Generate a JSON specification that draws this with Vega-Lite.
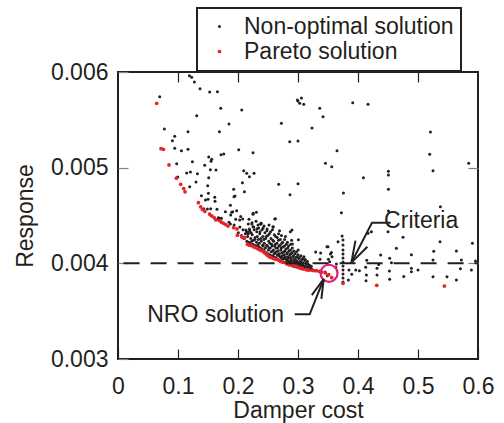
{
  "$schema": "https://vega.github.io/schema/vega-lite/v6.json",
  "width": 360,
  "height": 287,
  "autosize": {"type": "none"},
  "padding": {"left": 118, "top": 72, "right": 26, "bottom": 64},
  "config": {
    "font": "Liberation Sans",
    "view": {"stroke": "#231f20", "strokeWidth": 2},
    "legend": {"strokeWidth": 2},
    "axis": {"grid": false, "domain": false, "labelFlush": false, "labelOverlap": false, "labelFont": "Liberation Sans", "titleFont": "Liberation Sans", "labelFontSize": 23, "titleFontSize": 23, "labelColor": "#231f20", "titleColor": "#231f20", "titleFontWeight": "normal", "tickSize": -10, "tickColor": "#231f20", "tickWidth": 1.2}
  },
  "datasets": {
    "pts": [
      {"x":0.119,"y":0.00596,"t":"N"},{"x":0.1228,"y":0.005945,"t":"N"},{"x":0.1273,"y":0.005895,"t":"N"},{"x":0.1367,"y":0.005825,"t":"N"},{"x":0.1528,"y":0.005791,"t":"N"},{"x":0.1657,"y":0.005794,"t":"N"},{"x":0.0695,"y":0.005742,"t":"N"},{"x":0.1712,"y":0.005621,"t":"N"},{"x":0.1312,"y":0.005543,"t":"N"},{"x":0.185,"y":0.005456,"t":"N"},{"x":0.0773,"y":0.005404,"t":"N"},{"x":0.1167,"y":0.005376,"t":"N"},{"x":0.169,"y":0.005376,"t":"N"},{"x":0.0945,"y":0.005328,"t":"N"},{"x":0.0907,"y":0.005282,"t":"N"},{"x":0.0945,"y":0.005202,"t":"N"},{"x":0.1057,"y":0.005177,"t":"N"},{"x":0.1167,"y":0.005192,"t":"N"},{"x":0.1512,"y":0.005111,"t":"N"},{"x":0.1562,"y":0.005087,"t":"N"},{"x":0.155,"y":0.005067,"t":"N"},{"x":0.1717,"y":0.005136,"t":"N"},{"x":0.1762,"y":0.005143,"t":"N"},{"x":0.124,"y":0.005062,"t":"N"},{"x":0.0978,"y":0.005041,"t":"N"},{"x":0.1445,"y":0.005025,"t":"N"},{"x":0.154,"y":0.004979,"t":"N"},{"x":0.1633,"y":0.004976,"t":"N"},{"x":0.1145,"y":0.004944,"t":"N"},{"x":0.1207,"y":0.004955,"t":"N"},{"x":0.1323,"y":0.004937,"t":"N"},{"x":0.1512,"y":0.004895,"t":"N"},{"x":0.0995,"y":0.004902,"t":"N"},
      {"x":0.3,"y":0.005697,"t":"N"},{"x":0.3057,"y":0.005728,"t":"N"},{"x":0.3028,"y":0.005673,"t":"N"},{"x":0.3095,"y":0.005662,"t":"N"},{"x":0.299,"y":0.005707,"t":"N"},{"x":0.2062,"y":0.005603,"t":"N"},{"x":0.2723,"y":0.005464,"t":"N"},{"x":0.2862,"y":0.005271,"t":"N"},{"x":0.3,"y":0.005279,"t":"N"},{"x":0.2012,"y":0.005188,"t":"N"},{"x":0.225,"y":0.005156,"t":"N"},{"x":0.2095,"y":0.004968,"t":"N"},{"x":0.2145,"y":0.004941,"t":"N"},{"x":0.2267,"y":0.004941,"t":"N"},{"x":0.219,"y":0.004906,"t":"N"},{"x":0.1928,"y":0.004774,"t":"N"},{"x":0.2107,"y":0.004749,"t":"N"},{"x":0.1933,"y":0.004697,"t":"N"},{"x":0.2678,"y":0.004826,"t":"N"},{"x":0.3,"y":0.004832,"t":"N"},{"x":0.2867,"y":0.004717,"t":"N"},{"x":0.1873,"y":0.004607,"t":"N"},{"x":0.1912,"y":0.00454,"t":"N"},{"x":0.2307,"y":0.004533,"t":"N"},{"x":0.225,"y":0.004513,"t":"N"},{"x":0.2623,"y":0.004467,"t":"N"},{"x":0.2078,"y":0.004463,"t":"N"},{"x":0.1612,"y":0.00469,"t":"N"},{"x":0.1617,"y":0.004648,"t":"N"},{"x":0.1507,"y":0.004732,"t":"N"},{"x":0.139,"y":0.004707,"t":"N"},{"x":0.1457,"y":0.004662,"t":"N"},{"x":0.15,"y":0.004669,"t":"N"},{"x":0.1545,"y":0.004571,"t":"N"},{"x":0.149,"y":0.004568,"t":"N"},{"x":0.1428,"y":0.004571,"t":"N"},{"x":0.165,"y":0.004565,"t":"N"},{"x":0.179,"y":0.00454,"t":"N"},{"x":0.1673,"y":0.004477,"t":"N"},{"x":0.13,"y":0.00485,"t":"N"},{"x":0.1195,"y":0.004801,"t":"N"},
      {"x":0.3912,"y":0.005679,"t":"N"},{"x":0.4167,"y":0.005662,"t":"N"},{"x":0.3362,"y":0.005621,"t":"N"},{"x":0.3417,"y":0.005533,"t":"N"},{"x":0.3233,"y":0.005415,"t":"N"},{"x":0.365,"y":0.005177,"t":"N"},{"x":0.3457,"y":0.005046,"t":"N"},{"x":0.3562,"y":0.00501,"t":"N"},{"x":0.409,"y":0.004895,"t":"N"},{"x":0.3757,"y":0.004735,"t":"N"},{"x":0.3723,"y":0.004529,"t":"N"},{"x":0.5845,"y":0.005046,"t":"N"},{"x":0.5207,"y":0.005373,"t":"N"},{"x":0.5195,"y":0.00514,"t":"N"},{"x":0.525,"y":0.004968,"t":"N"},{"x":0.4507,"y":0.004962,"t":"N"},{"x":0.4507,"y":0.004923,"t":"N"},{"x":0.4507,"y":0.004774,"t":"N"},{"x":0.4507,"y":0.004547,"t":"N"},{"x":0.5373,"y":0.004592,"t":"N"},{"x":0.2073,"y":0.004843,"t":"N"},{"x":0.1495,"y":0.004812,"t":"N"},
      {"x":0.185,"y":0.00443,"t":"N"},{"x":0.1873,"y":0.00441,"t":"N"},{"x":0.2028,"y":0.004453,"t":"N"},{"x":0.1667,"y":0.00446,"t":"N"},{"x":0.1695,"y":0.00447,"t":"N"},{"x":0.155,"y":0.0045,"t":"N"},{"x":0.1878,"y":0.004505,"t":"N"},{"x":0.1895,"y":0.004533,"t":"N"},{"x":0.195,"y":0.004704,"t":"N"},{"x":0.1723,"y":0.00447,"t":"N"},{"x":0.2133,"y":0.004348,"t":"N"},{"x":0.2167,"y":0.004324,"t":"N"},{"x":0.2195,"y":0.004341,"t":"N"},{"x":0.225,"y":0.004383,"t":"N"},{"x":0.2317,"y":0.004362,"t":"N"},{"x":0.2378,"y":0.004408,"t":"N"},{"x":0.2233,"y":0.004425,"t":"N"},{"x":0.2253,"y":0.004523,"t":"N"},{"x":0.2383,"y":0.004418,"t":"N"},{"x":0.2612,"y":0.004463,"t":"N"},{"x":0.2583,"y":0.004383,"t":"N"},{"x":0.2873,"y":0.004331,"t":"N"},{"x":0.29,"y":0.004348,"t":"N"},{"x":0.3007,"y":0.004247,"t":"N"},{"x":0.2907,"y":0.004202,"t":"N"},
      {"x":0.1935,"y":0.0044,"t":"N"},{"x":0.1962,"y":0.00446,"t":"N"},{"x":0.2005,"y":0.00432,"t":"N"},{"x":0.2031,"y":0.00438,"t":"N"},{"x":0.2058,"y":0.00429,"t":"N"},{"x":0.2084,"y":0.00435,"t":"N"},{"x":0.2102,"y":0.00426,"t":"N"},{"x":0.2123,"y":0.00431,"t":"N"},{"x":0.2045,"y":0.00449,"t":"N"},{"x":0.1978,"y":0.00455,"t":"N"},
      {"x":0.2148,"y":0.00423,"t":"N"},{"x":0.2161,"y":0.00428,"t":"N"},{"x":0.2139,"y":0.00433,"t":"N"},{"x":0.2172,"y":0.00441,"t":"N"},{"x":0.2203,"y":0.00421,"t":"N"},{"x":0.2214,"y":0.00426,"t":"N"},{"x":0.2191,"y":0.00436,"t":"N"},{"x":0.2246,"y":0.0042,"t":"N"},{"x":0.2258,"y":0.00424,"t":"N"},{"x":0.2237,"y":0.0043,"t":"N"},{"x":0.2262,"y":0.00438,"t":"N"},{"x":0.2297,"y":0.00418,"t":"N"},{"x":0.2309,"y":0.00422,"t":"N"},{"x":0.2285,"y":0.00427,"t":"N"},{"x":0.2313,"y":0.00433,"t":"N"},{"x":0.2301,"y":0.00444,"t":"N"},{"x":0.2348,"y":0.00417,"t":"N"},{"x":0.2355,"y":0.00421,"t":"N"},{"x":0.2339,"y":0.00425,"t":"N"},{"x":0.2362,"y":0.00431,"t":"N"},{"x":0.2344,"y":0.00437,"t":"N"},{"x":0.2396,"y":0.00415,"t":"N"},{"x":0.2409,"y":0.00419,"t":"N"},{"x":0.2388,"y":0.00423,"t":"N"},{"x":0.2412,"y":0.00428,"t":"N"},{"x":0.2401,"y":0.00435,"t":"N"},{"x":0.2384,"y":0.00442,"t":"N"},{"x":0.2447,"y":0.00412,"t":"N"},{"x":0.2456,"y":0.00416,"t":"N"},{"x":0.2438,"y":0.00421,"t":"N"},{"x":0.2461,"y":0.00426,"t":"N"},{"x":0.2449,"y":0.00432,"t":"N"},{"x":0.2433,"y":0.00439,"t":"N"},{"x":0.2495,"y":0.0041,"t":"N"},{"x":0.2507,"y":0.00414,"t":"N"},{"x":0.2489,"y":0.00418,"t":"N"},{"x":0.2512,"y":0.00423,"t":"N"},{"x":0.2498,"y":0.00429,"t":"N"},{"x":0.2485,"y":0.00436,"t":"N"},{"x":0.2546,"y":0.00408,"t":"N"},{"x":0.2553,"y":0.00412,"t":"N"},{"x":0.2538,"y":0.00416,"t":"N"},{"x":0.2561,"y":0.0042,"t":"N"},{"x":0.2549,"y":0.00426,"t":"N"},{"x":0.2542,"y":0.00433,"t":"N"},{"x":0.2597,"y":0.00407,"t":"N"},{"x":0.2604,"y":0.0041,"t":"N"},{"x":0.2589,"y":0.00414,"t":"N"},{"x":0.2611,"y":0.00418,"t":"N"},{"x":0.2593,"y":0.00423,"t":"N"},{"x":0.2606,"y":0.0043,"t":"N"},{"x":0.2588,"y":0.00438,"t":"N"},{"x":0.2645,"y":0.00405,"t":"N"},{"x":0.2656,"y":0.00409,"t":"N"},{"x":0.2638,"y":0.00412,"t":"N"},{"x":0.2661,"y":0.00416,"t":"N"},{"x":0.2649,"y":0.00421,"t":"N"},{"x":0.2653,"y":0.00427,"t":"N"},{"x":0.2696,"y":0.00403,"t":"N"},{"x":0.2708,"y":0.00407,"t":"N"},{"x":0.2689,"y":0.0041,"t":"N"},{"x":0.2712,"y":0.00414,"t":"N"},{"x":0.2699,"y":0.00419,"t":"N"},{"x":0.2705,"y":0.00425,"t":"N"},{"x":0.2692,"y":0.00434,"t":"N"},{"x":0.2747,"y":0.00402,"t":"N"},{"x":0.2754,"y":0.00405,"t":"N"},{"x":0.2739,"y":0.00408,"t":"N"},{"x":0.2761,"y":0.00412,"t":"N"},{"x":0.2748,"y":0.00417,"t":"N"},{"x":0.2744,"y":0.00422,"t":"N"},{"x":0.2795,"y":0.00401,"t":"N"},{"x":0.2808,"y":0.00404,"t":"N"},{"x":0.2789,"y":0.00407,"t":"N"},{"x":0.2812,"y":0.0041,"t":"N"},{"x":0.2798,"y":0.00415,"t":"N"},{"x":0.2804,"y":0.0042,"t":"N"},{"x":0.2791,"y":0.00428,"t":"N"},{"x":0.2846,"y":0.00399,"t":"N"},{"x":0.2853,"y":0.00402,"t":"N"},{"x":0.2838,"y":0.00405,"t":"N"},{"x":0.2861,"y":0.00409,"t":"N"},{"x":0.2849,"y":0.00413,"t":"N"},{"x":0.2843,"y":0.00418,"t":"N"},{"x":0.2897,"y":0.00398,"t":"N"},{"x":0.2906,"y":0.00401,"t":"N"},{"x":0.2889,"y":0.00404,"t":"N"},{"x":0.2911,"y":0.00407,"t":"N"},{"x":0.2899,"y":0.00411,"t":"N"},{"x":0.2905,"y":0.00416,"t":"N"},{"x":0.2893,"y":0.00424,"t":"N"},{"x":0.2946,"y":0.00397,"t":"N"},{"x":0.2955,"y":0.004,"t":"N"},{"x":0.2938,"y":0.00403,"t":"N"},{"x":0.2961,"y":0.00406,"t":"N"},{"x":0.2949,"y":0.0041,"t":"N"},{"x":0.2997,"y":0.00396,"t":"N"},{"x":0.3006,"y":0.00399,"t":"N"},{"x":0.2989,"y":0.00402,"t":"N"},{"x":0.3011,"y":0.00405,"t":"N"},{"x":0.2999,"y":0.00409,"t":"N"},{"x":0.3004,"y":0.00414,"t":"N"},{"x":0.3047,"y":0.00395,"t":"N"},{"x":0.3054,"y":0.00398,"t":"N"},{"x":0.3039,"y":0.00401,"t":"N"},{"x":0.3061,"y":0.00404,"t":"N"},{"x":0.3049,"y":0.00408,"t":"N"},{"x":0.3096,"y":0.00394,"t":"N"},{"x":0.3105,"y":0.00397,"t":"N"},{"x":0.3089,"y":0.004,"t":"N"},{"x":0.3111,"y":0.00403,"t":"N"},{"x":0.3099,"y":0.00407,"t":"N"},{"x":0.3146,"y":0.00394,"t":"N"},{"x":0.3155,"y":0.00396,"t":"N"},{"x":0.3141,"y":0.00399,"t":"N"},{"x":0.3158,"y":0.00402,"t":"N"},{"x":0.3197,"y":0.00393,"t":"N"},{"x":0.3205,"y":0.00395,"t":"N"},{"x":0.3191,"y":0.00398,"t":"N"},
      {"x":0.2178,"y":0.00422,"t":"N"},{"x":0.2171,"y":0.00431,"t":"N"},{"x":0.2183,"y":0.00446,"t":"N"},{"x":0.2228,"y":0.00423,"t":"N"},{"x":0.2219,"y":0.00432,"t":"N"},{"x":0.2231,"y":0.00441,"t":"N"},{"x":0.2272,"y":0.00419,"t":"N"},{"x":0.2281,"y":0.00425,"t":"N"},{"x":0.2269,"y":0.00435,"t":"N"},{"x":0.2328,"y":0.00419,"t":"N"},{"x":0.2321,"y":0.00428,"t":"N"},{"x":0.2333,"y":0.0044,"t":"N"},{"x":0.2372,"y":0.00416,"t":"N"},{"x":0.2379,"y":0.00426,"t":"N"},{"x":0.2368,"y":0.00433,"t":"N"},{"x":0.2428,"y":0.00414,"t":"N"},{"x":0.2421,"y":0.00418,"t":"N"},{"x":0.2431,"y":0.00425,"t":"N"},{"x":0.2419,"y":0.00437,"t":"N"},{"x":0.2472,"y":0.00411,"t":"N"},{"x":0.2479,"y":0.00419,"t":"N"},{"x":0.2468,"y":0.00428,"t":"N"},{"x":0.2481,"y":0.00434,"t":"N"},{"x":0.2528,"y":0.00409,"t":"N"},{"x":0.2519,"y":0.00416,"t":"N"},{"x":0.2531,"y":0.00421,"t":"N"},{"x":0.2522,"y":0.00431,"t":"N"},{"x":0.2517,"y":0.0044,"t":"N"},{"x":0.2572,"y":0.00408,"t":"N"},{"x":0.2579,"y":0.00413,"t":"N"},{"x":0.2568,"y":0.00418,"t":"N"},{"x":0.2581,"y":0.00424,"t":"N"},{"x":0.2574,"y":0.00435,"t":"N"},{"x":0.2628,"y":0.00406,"t":"N"},{"x":0.2619,"y":0.00411,"t":"N"},{"x":0.2631,"y":0.00416,"t":"N"},{"x":0.2622,"y":0.0042,"t":"N"},{"x":0.2627,"y":0.00428,"t":"N"},{"x":0.2672,"y":0.00404,"t":"N"},{"x":0.2679,"y":0.00408,"t":"N"},{"x":0.2668,"y":0.00413,"t":"N"},{"x":0.2681,"y":0.00418,"t":"N"},{"x":0.2674,"y":0.00424,"t":"N"},{"x":0.2677,"y":0.00431,"t":"N"},{"x":0.2728,"y":0.00403,"t":"N"},{"x":0.2719,"y":0.00406,"t":"N"},{"x":0.2731,"y":0.00411,"t":"N"},{"x":0.2722,"y":0.00416,"t":"N"},{"x":0.2729,"y":0.00421,"t":"N"},{"x":0.2724,"y":0.00429,"t":"N"},{"x":0.2772,"y":0.00401,"t":"N"},{"x":0.2779,"y":0.00405,"t":"N"},{"x":0.2768,"y":0.00409,"t":"N"},{"x":0.2781,"y":0.00413,"t":"N"},{"x":0.2774,"y":0.00418,"t":"N"},{"x":0.2777,"y":0.00425,"t":"N"},{"x":0.2828,"y":0.004,"t":"N"},{"x":0.2819,"y":0.00403,"t":"N"},{"x":0.2831,"y":0.00407,"t":"N"},{"x":0.2822,"y":0.00411,"t":"N"},{"x":0.2829,"y":0.00416,"t":"N"},{"x":0.2824,"y":0.00422,"t":"N"},{"x":0.2872,"y":0.00399,"t":"N"},{"x":0.2879,"y":0.00402,"t":"N"},{"x":0.2868,"y":0.00406,"t":"N"},{"x":0.2881,"y":0.0041,"t":"N"},{"x":0.2874,"y":0.00414,"t":"N"},{"x":0.2877,"y":0.0042,"t":"N"},{"x":0.2928,"y":0.00397,"t":"N"},{"x":0.2919,"y":0.004,"t":"N"},{"x":0.2931,"y":0.00404,"t":"N"},{"x":0.2922,"y":0.00408,"t":"N"},{"x":0.2929,"y":0.00413,"t":"N"},{"x":0.2972,"y":0.00397,"t":"N"},{"x":0.2979,"y":0.004,"t":"N"},{"x":0.2968,"y":0.00403,"t":"N"},{"x":0.2981,"y":0.00407,"t":"N"},{"x":0.2974,"y":0.00412,"t":"N"},{"x":0.3028,"y":0.00396,"t":"N"},{"x":0.3019,"y":0.00399,"t":"N"},{"x":0.3031,"y":0.00402,"t":"N"},{"x":0.3022,"y":0.00406,"t":"N"},{"x":0.3072,"y":0.00395,"t":"N"},{"x":0.3079,"y":0.00398,"t":"N"},{"x":0.3068,"y":0.00401,"t":"N"},{"x":0.3081,"y":0.00405,"t":"N"},{"x":0.3128,"y":0.00395,"t":"N"},{"x":0.3119,"y":0.00397,"t":"N"},{"x":0.3131,"y":0.004,"t":"N"},{"x":0.3122,"y":0.00404,"t":"N"},{"x":0.3172,"y":0.00394,"t":"N"},{"x":0.3179,"y":0.00396,"t":"N"},{"x":0.3168,"y":0.00399,"t":"N"},{"x":0.3228,"y":0.00394,"t":"N"},{"x":0.3221,"y":0.00397,"t":"N"},
      {"x":0.3295,"y":0.004118,"t":"N"},{"x":0.3378,"y":0.004108,"t":"N"},{"x":0.3367,"y":0.004042,"t":"N"},{"x":0.35,"y":0.004174,"t":"N"},{"x":0.354,"y":0.004098,"t":"N"},{"x":0.3567,"y":0.00407,"t":"N"},{"x":0.364,"y":0.003993,"t":"N"},{"x":0.3628,"y":0.003958,"t":"N"},{"x":0.3483,"y":0.004174,"t":"N"},{"x":0.3557,"y":0.004112,"t":"N"},{"x":0.3507,"y":0.004042,"t":"N"},{"x":0.3528,"y":0.004017,"t":"N"},{"x":0.3667,"y":0.004226,"t":"N"},{"x":0.3735,"y":0.004286,"t":"N"},{"x":0.375,"y":0.004244,"t":"N"},{"x":0.375,"y":0.004191,"t":"N"},{"x":0.375,"y":0.004139,"t":"N"},{"x":0.375,"y":0.004097,"t":"N"},{"x":0.375,"y":0.004056,"t":"N"},{"x":0.375,"y":0.004014,"t":"N"},{"x":0.375,"y":0.003972,"t":"N"},{"x":0.375,"y":0.00393,"t":"N"},{"x":0.375,"y":0.003889,"t":"N"},{"x":0.375,"y":0.003847,"t":"N"},{"x":0.375,"y":0.003805,"t":"N"},{"x":0.385,"y":0.00393,"t":"N"},{"x":0.3895,"y":0.003885,"t":"N"},{"x":0.3962,"y":0.00393,"t":"N"},{"x":0.4023,"y":0.003923,"t":"N"},{"x":0.384,"y":0.003826,"t":"N"},{"x":0.4128,"y":0.003958,"t":"N"},{"x":0.414,"y":0.003878,"t":"N"},{"x":0.4133,"y":0.003818,"t":"N"},{"x":0.4145,"y":0.004031,"t":"N"},{"x":0.4317,"y":0.003948,"t":"N"},{"x":0.4317,"y":0.003878,"t":"N"},{"x":0.4345,"y":0.003989,"t":"N"},{"x":0.4378,"y":0.004087,"t":"N"},{"x":0.4223,"y":0.004331,"t":"N"},{"x":0.45,"y":0.004331,"t":"N"},{"x":0.4523,"y":0.00392,"t":"N"},{"x":0.4528,"y":0.003833,"t":"N"},{"x":0.4528,"y":0.004052,"t":"N"},{"x":0.4557,"y":0.004006,"t":"N"},{"x":0.4167,"y":0.004314,"t":"N"},{"x":0.464,"y":0.004157,"t":"N"},{"x":0.475,"y":0.004272,"t":"N"},{"x":0.4762,"y":0.003862,"t":"N"},{"x":0.489,"y":0.004091,"t":"N"},{"x":0.489,"y":0.003948,"t":"N"},{"x":0.489,"y":0.003913,"t":"N"},{"x":0.5,"y":0.00393,"t":"N"},{"x":0.525,"y":0.004035,"t":"N"},{"x":0.5262,"y":0.004126,"t":"N"},{"x":0.525,"y":0.00386,"t":"N"},{"x":0.5367,"y":0.004226,"t":"N"},{"x":0.5483,"y":0.00386,"t":"N"},{"x":0.564,"y":0.004129,"t":"N"},{"x":0.564,"y":0.003826,"t":"N"},{"x":0.5707,"y":0.003944,"t":"N"},{"x":0.5723,"y":0.004035,"t":"N"},{"x":0.5907,"y":0.004209,"t":"N"},{"x":0.5957,"y":0.004024,"t":"N"},{"x":0.589,"y":0.00393,"t":"N"},{"x":0.345,"y":0.00391,"t":"N"},{"x":0.349,"y":0.00387,"t":"N"},
      {"x":0.0645,"y":0.005673,"t":"P"},{"x":0.0717,"y":0.005198,"t":"P"},{"x":0.0757,"y":0.005192,"t":"P"},{"x":0.085,"y":0.005028,"t":"P"},{"x":0.0973,"y":0.00489,"t":"P"},{"x":0.1045,"y":0.004826,"t":"P"},{"x":0.1095,"y":0.004782,"t":"P"},{"x":0.1117,"y":0.004748,"t":"P"},{"x":0.134,"y":0.004634,"t":"P"},{"x":0.1378,"y":0.004591,"t":"P"},{"x":0.1407,"y":0.004562,"t":"P"},{"x":0.1448,"y":0.004542,"t":"P"},{"x":0.1525,"y":0.004515,"t":"P"},{"x":0.1567,"y":0.004494,"t":"P"},{"x":0.1605,"y":0.004475,"t":"P"},{"x":0.1632,"y":0.004454,"t":"P"},{"x":0.1695,"y":0.004446,"t":"P"},{"x":0.1725,"y":0.00443,"t":"P"},{"x":0.1757,"y":0.004418,"t":"P"},{"x":0.1795,"y":0.004405,"t":"P"},{"x":0.1833,"y":0.00439,"t":"P"},{"x":0.1928,"y":0.004372,"t":"P"},{"x":0.1982,"y":0.004359,"t":"P"},{"x":0.199,"y":0.004294,"t":"P"},{"x":0.2062,"y":0.004278,"t":"P"},{"x":0.2078,"y":0.004272,"t":"P"},{"x":0.2112,"y":0.004268,"t":"P"},{"x":0.2157,"y":0.0042,"t":"P"},{"x":0.2185,"y":0.00419,"t":"P"},{"x":0.2205,"y":0.004188,"t":"P"},{"x":0.2225,"y":0.004184,"t":"P"},{"x":0.2265,"y":0.004172,"t":"P"},{"x":0.23,"y":0.004163,"t":"P"},{"x":0.2325,"y":0.004155,"t":"P"},{"x":0.2355,"y":0.004144,"t":"P"},{"x":0.2385,"y":0.004135,"t":"P"},{"x":0.2417,"y":0.004127,"t":"P"},{"x":0.2435,"y":0.004118,"t":"P"},{"x":0.2445,"y":0.00411,"t":"P"},{"x":0.2473,"y":0.004094,"t":"P"},{"x":0.2495,"y":0.004082,"t":"P"},{"x":0.2517,"y":0.004071,"t":"P"},{"x":0.2545,"y":0.004062,"t":"P"},{"x":0.2583,"y":0.004053,"t":"P"},{"x":0.2605,"y":0.004048,"t":"P"},{"x":0.2625,"y":0.004044,"t":"P"},{"x":0.2667,"y":0.004035,"t":"P"},{"x":0.2705,"y":0.004022,"t":"P"},{"x":0.2725,"y":0.004017,"t":"P"},{"x":0.275,"y":0.004011,"t":"P"},{"x":0.2805,"y":0.003998,"t":"P"},{"x":0.2835,"y":0.00399,"t":"P"},{"x":0.2862,"y":0.003983,"t":"P"},{"x":0.2915,"y":0.003975,"t":"P"},{"x":0.2945,"y":0.00397,"t":"P"},{"x":0.2973,"y":0.003965,"t":"P"},{"x":0.3025,"y":0.003953,"t":"P"},{"x":0.3055,"y":0.003947,"t":"P"},{"x":0.3083,"y":0.003941,"t":"P"},{"x":0.3135,"y":0.003935,"t":"P"},{"x":0.3155,"y":0.003932,"t":"P"},{"x":0.3183,"y":0.00393,"t":"P"},{"x":0.3245,"y":0.003926,"t":"P"},{"x":0.3275,"y":0.003924,"t":"P"},{"x":0.3307,"y":0.003923,"t":"P"},{"x":0.3355,"y":0.003915,"t":"P"},{"x":0.3395,"y":0.003909,"t":"P"},{"x":0.3455,"y":0.0039,"t":"P"},{"x":0.3512,"y":0.003883,"t":"P"},{"x":0.3562,"y":0.00385,"t":"P"},{"x":0.375,"y":0.003791,"t":"P"},{"x":0.4312,"y":0.00377,"t":"P"},{"x":0.544,"y":0.003763,"t":"P"}
    ],
    "arrows": [
      {"seg":"c1","o":1,"x":0.4545,"y":0.004425},{"seg":"c1","o":2,"x":0.4233,"y":0.004425},{"seg":"c1","o":3,"x":0.389,"y":0.004007},
      {"seg":"c2","o":1,"x":0.389,"y":0.004007},{"seg":"c2","o":2,"x":0.3957,"y":0.004237},
      {"seg":"c3","o":1,"x":0.389,"y":0.004007},{"seg":"c3","o":2,"x":0.4157,"y":0.004174},
      {"seg":"n1","o":1,"x":0.2945,"y":0.003467},{"seg":"n1","o":2,"x":0.3195,"y":0.003467},{"seg":"n1","o":3,"x":0.3428,"y":0.003836},
      {"seg":"n2","o":1,"x":0.3428,"y":0.003836},{"seg":"n2","o":2,"x":0.323,"y":0.003668},
      {"seg":"n3","o":1,"x":0.3428,"y":0.003836},{"seg":"n3","o":2,"x":0.339,"y":0.003628}
    ],
    "labels": [
      {"x":0.5053,"y":0.004366,"label":"Criteria"},
      {"x":0.1626,"y":0.00339,"label":"NRO solution"}
    ],
    "crit": [{"y":0.004}],
    "nro": [{"x":0.3517,"y":0.003896}]
  },
  "resolve": {"axis": {"x": "independent", "y": "independent"}},
  "layer": [
    {
      "data": {"name": "pts"},
      "mark": {"type": "point", "filled": true, "shape": "circle", "opacity": 1},
      "encoding": {
        "x": {"field": "x", "type": "quantitative", "scale": {"domain": [0, 0.6], "nice": false, "zero": false},
              "axis": {"orient": "bottom", "values": [0, 0.1, 0.2, 0.3, 0.4, 0.5, 0.6], "format": "~g", "title": "Damper cost", "labelPadding": 26, "titleX": 180, "titleY": 58, "titleBaseline": "alphabetic", "titleAnchor": "middle"}},
        "y": {"field": "y", "type": "quantitative", "scale": {"domain": [0.003, 0.006], "nice": false, "zero": false},
              "axis": {"orient": "left", "values": [0.003, 0.004, 0.005, 0.006], "format": ".3f", "title": "Response", "labelPadding": 20, "tickColor": "#808080", "titleX": -93, "titleY": 143.5, "titleAngle": -90, "titleBaseline": "middle", "titleAlign": "center"}},
        "color": {"field": "t", "type": "nominal", "scale": {"domain": ["N", "P"], "range": ["#231f20", "#ea2228"]},
                  "legend": {"orient": "none", "legendX": 79, "legendY": -64, "title": null, "labelExpr": "datum.label == 'N' ? 'Non-optimal solution' : 'Pareto solution'", "labelFontSize": 23, "labelFont": "Liberation Sans", "labelColor": "#231f20", "symbolSize": 12, "symbolType": "circle", "padding": 7, "strokeColor": "#231f20", "fillColor": "white", "rowPadding": 1, "symbolOffset": 4, "labelOffset": 13, "labelLimit": 400,
                             "encode": {"legend": {"update": {"strokeWidth": {"value": 2}, "stroke": {"value": "#231f20"}}}}}},
        "size": {"field": "t", "type": "nominal", "scale": {"domain": ["N", "P"], "range": [9, 14]}, "legend": null}
      }
    },
    {
      "data": {"name": "nro"},
      "mark": {"type": "point", "shape": "circle", "filled": false, "size": 290, "stroke": "#e5197d", "strokeWidth": 2.2, "opacity": 1},
      "encoding": {
        "x": {"field": "x", "type": "quantitative", "axis": null},
        "y": {"field": "y", "type": "quantitative", "axis": null}
      }
    },
    {
      "data": {"name": "arrows"},
      "mark": {"type": "line", "color": "#231f20", "strokeWidth": 2},
      "encoding": {
        "x": {"field": "x", "type": "quantitative", "axis": {"orient": "top", "labels": false, "title": null, "values": [0.1, 0.2, 0.3, 0.4, 0.5]}},
        "y": {"field": "y", "type": "quantitative", "axis": {"orient": "right", "labels": false, "title": null, "values": [0.004, 0.005], "tickColor": "#808080"}},
        "detail": {"field": "seg"},
        "order": {"field": "o", "type": "quantitative"}
      }
    },
    {
      "data": {"name": "crit"},
      "mark": {"type": "rule", "strokeDash": [16, 11], "strokeDashOffset": 12.6, "strokeWidth": 2, "color": "#231f20"},
      "encoding": {
        "y": {"field": "y", "type": "quantitative", "axis": null}
      }
    },
    {
      "data": {"name": "labels"},
      "mark": {"type": "text", "fontSize": 23, "font": "Liberation Sans", "color": "#231f20", "align": "center", "baseline": "alphabetic"},
      "encoding": {
        "x": {"field": "x", "type": "quantitative", "axis": null},
        "y": {"field": "y", "type": "quantitative", "axis": null},
        "text": {"field": "label"}
      }
    }
  ]
}
